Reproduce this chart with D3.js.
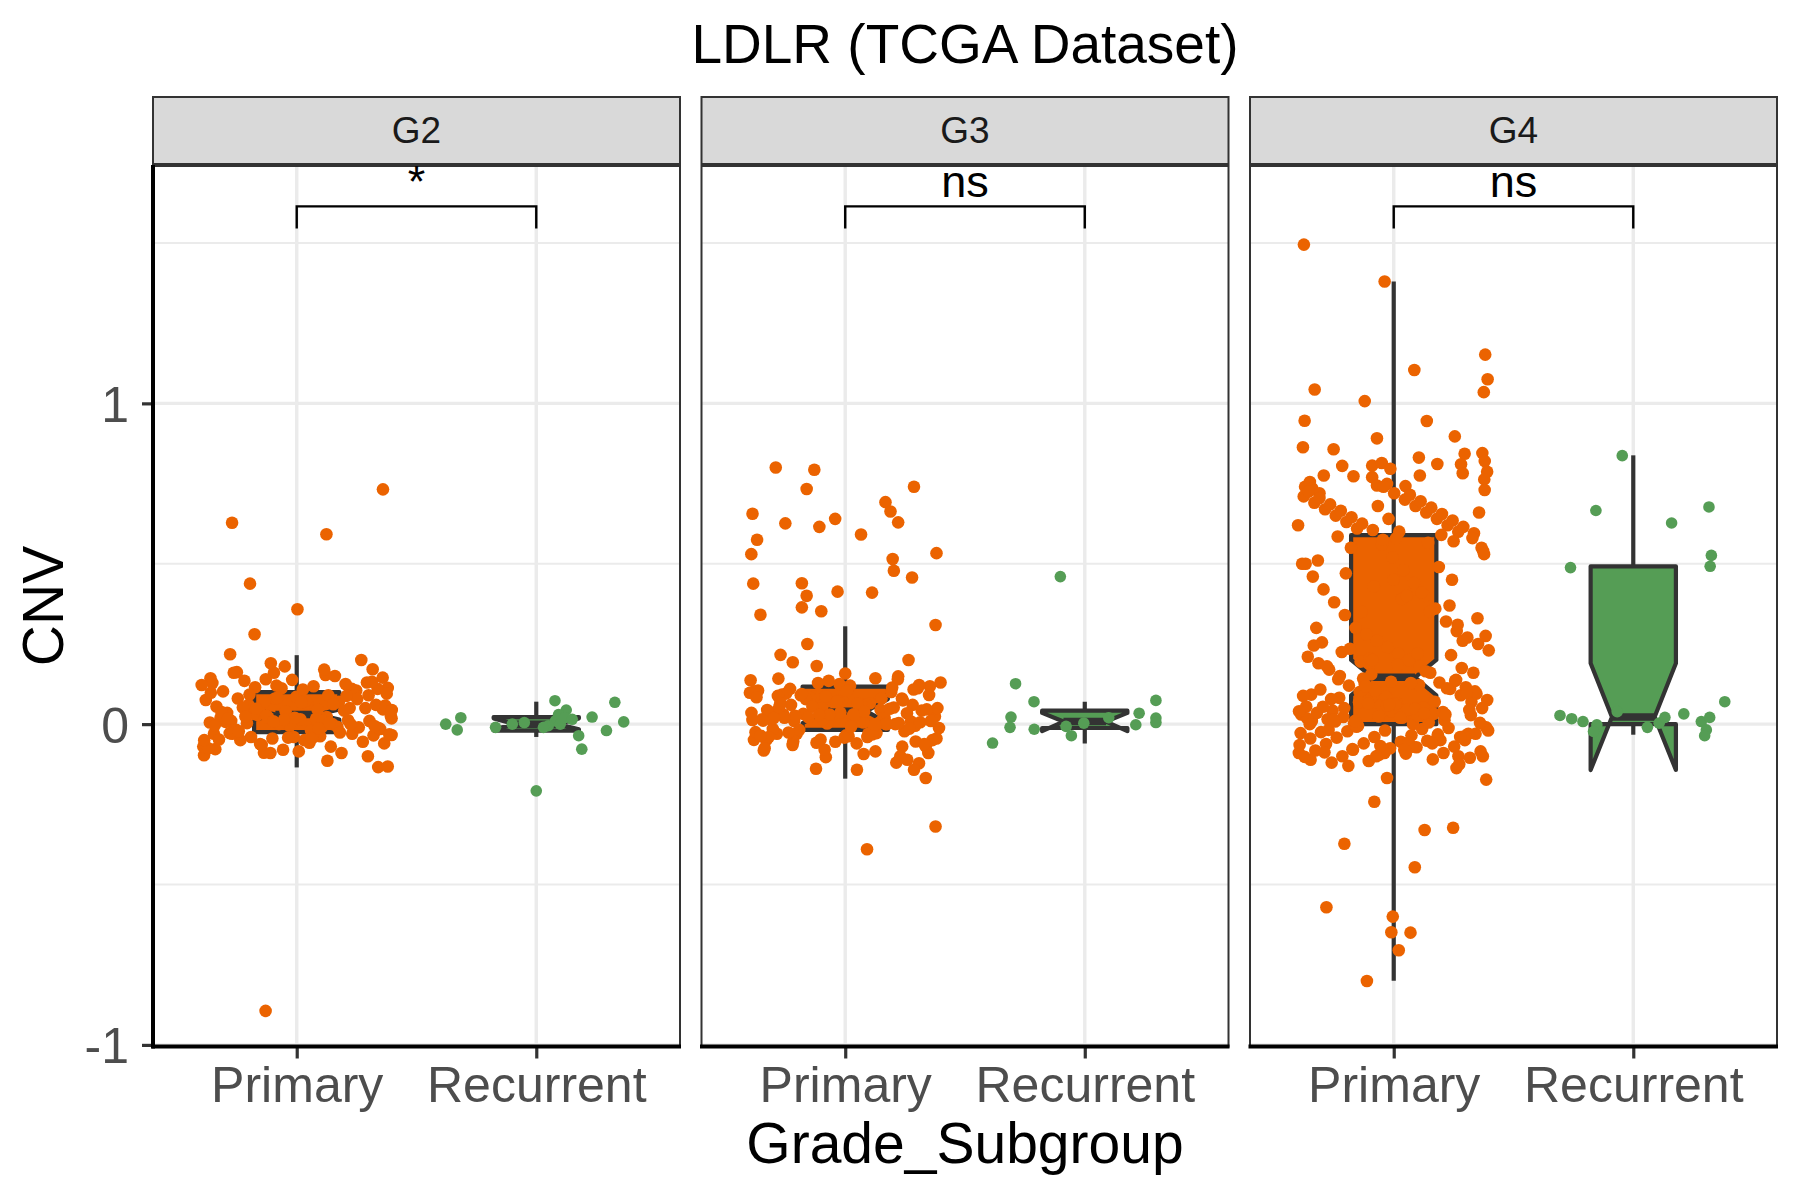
<!DOCTYPE html>
<html><head><meta charset="utf-8">
<script src="https://cdn.jsdelivr.net/npm/d3@7"></script>
<style>
body{margin:0;background:#fff}
svg{display:block}
text{font-family:"Liberation Sans",Arial,Helvetica,sans-serif}
</style>
</head><body>
<svg id="chart" width="1800" height="1200"></svg>
<script>
// ---------------- DATA ----------------
const chartTitle = "LDLR (TCGA Dataset)";
const xTitle = "Grade_Subgroup";
const yTitle = "CNV";
const grades = ["G2", "G3", "G4"];
const categories = ["Primary", "Recurrent"];
const yTicks = [-1, 0, 1];
const yTickLabels = ["-1", "0", "1"];
const sigLabels = ["*", "ns", "ns"];
const bracketTop = [1.614, 1.614, 1.614];
const bracketTip = [1.545, 1.545, 1.545];
const sigLabelY = [1.643, 1.643, 1.643];

// box statistics, order: G2 Primary, G2 Recurrent, G3 Primary, G3 Recurrent, G4 Primary, G4 Recurrent
const boxLower  = [-0.135, -0.04, -0.17, -0.06, -0.80, -0.033];
const boxQ1     = [-0.025, -0.02, -0.018, -0.012, 0.0, 0.0];
const boxMedian = [0.03, 0.0, 0.04, 0.008, 0.146, 0.022];
const boxQ3     = [0.10, 0.022, 0.117, 0.042, 0.589, 0.492];
const boxUpper  = [0.215, 0.07, 0.305, 0.07, 1.38, 0.838];
const notchLow  = [0.014, -0.016, 0.003, -0.022, 0.09, -0.143];
const notchHigh = [0.046, 0.018, 0.078, 0.035, 0.20, 0.19];

// distinct points: [jitter offset (category units), CNV]
const g2PrimaryOut = [[0.36,0.732],[-0.27,0.628],[0.124,0.592],[-0.195,0.438],[0.003,0.358],[-0.176,0.28],[-0.278,0.218],[0.317,0.171],[-0.05,0.18],[-0.25,0.162],[-0.36,0.143],[0.12,0.153],[-0.095,0.16],[-0.387,-0.097],[0.128,-0.114],[0.34,-0.134],[0.38,-0.132],[-0.34,-0.078],[-0.137,-0.089],[-0.11,-0.09],[0.396,-0.034],[0.396,0.018],[0.36,0.046],[0.38,0.113],[0.3,0.09],[0.23,0.11],[-0.13,-0.894]];
// dense cluster values (jittered evenly)
const g2PrimaryCore = [-0.03,0.0,0.04,0.11,-0.05,0.01,0.05,0.12,-0.07,-0.01,0.06,0.13,-0.04,0.02,0.07,0.14,-0.06,-0.02,0.08,0.105,-0.08,0.005,0.09,0.115,-0.035,0.015,0.035,0.125,-0.045,0.025,0.045,0.135,-0.055,-0.005,0.055,0.15,-0.065,-0.015,0.065,0.16,-0.03,0.0,0.075,0.17,-0.04,0.01,0.085,0.102,-0.09,0.02,0.095,0.118,-0.05,-0.01,0.04,0.128,-0.07,0.028,0.06,0.108,-0.028,0.012,0.08,0.122,-0.038,0.003,0.05,0.138,-0.048,-0.008,0.07,0.145,-0.058,-0.018,0.09,0.112,-0.075,0.022,0.032,0.132,-0.085,0.007,0.042,0.19,-0.032,0.017,0.052,0.2,-0.042,-0.003,0.062,-0.062,-0.012,0.072,-0.03,0.0,0.082,-0.05,0.01,0.092,-0.1,0.02,0.038,-0.026,0.026,0.058,-0.044,-0.022,0.078,0.014,0.098,0.004,0.048,-0.006,0.068,0.018,0.088,0.009,0.044,-0.013,0.024];
const g2RecurrentOut = [[-0.378,0.0],[-0.315,0.02],[-0.33,-0.018],[-0.17,-0.01],[0.078,0.073],[0.125,0.044],[0.093,0.03],[0.08,0.01],[0.05,-0.005],[0.03,-0.01],[0.1,0.0],[0.12,0.02],[0.177,-0.036],[0.19,-0.078],[0.233,0.022],[0.293,-0.02],[0.328,0.068],[0.365,0.007],[0.0,-0.208],[-0.1,0.0],[-0.05,0.005],[0.15,0.015]];
const g2RecurrentCore = [];

const g3PrimaryOut = [[-0.29,0.80],[-0.129,0.793],[-0.161,0.733],[-0.387,0.656],[-0.25,0.626],[-0.108,0.615],[-0.042,0.64],[0.287,0.74],[0.168,0.692],[0.189,0.663],[0.221,0.629],[-0.368,0.575],[-0.392,0.53],[0.066,0.591],[0.381,0.533],[0.198,0.515],[0.203,0.478],[0.279,0.457],[-0.384,0.438],[-0.181,0.439],[-0.161,0.40],[-0.032,0.413],[0.112,0.41],[-0.181,0.364],[-0.1,0.352],[-0.354,0.341],[0.377,0.309],[-0.27,0.216],[-0.219,0.193],[-0.119,0.181],[-0.395,0.137],[-0.279,0.142],[0.0,0.158],[0.126,0.143],[0.221,0.149],[0.35,0.091],[-0.34,-0.082],[-0.381,-0.049],[-0.081,-0.103],[-0.122,-0.139],[0.049,-0.142],[0.077,-0.093],[0.126,-0.085],[0.238,-0.07],[0.259,-0.111],[0.308,-0.122],[0.287,-0.142],[0.336,-0.168],[0.377,-0.319],[0.091,-0.39],[0.294,-0.054],[-0.217,-0.054]];
const g3PrimaryCore = [0.12,-0.03,0.0,0.05,0.13,-0.04,0.01,0.06,0.125,-0.05,0.02,0.07,0.118,-0.06,0.03,0.08,0.135,-0.025,-0.01,0.09,0.122,-0.035,-0.015,0.1,0.128,-0.045,0.005,0.11,0.2,-0.055,0.015,0.045,0.25,-0.07,0.025,0.055,0.14,-0.08,0.035,0.065,-0.03,-0.005,0.075,-0.04,0.0,0.085,-0.05,0.012,0.095,-0.022,0.022,0.105,-0.028,0.032,0.042,-0.038,0.038,0.052,-0.048,-0.012,0.062,-0.065,0.008,0.072,-0.075,0.018,0.082,-0.09,0.028,0.092,-0.1,0.002,0.102,-0.032,-0.018,0.112,-0.042,0.014,0.048,-0.058,0.024,0.058,-0.026,0.034,0.068,-0.036,0.004,0.078,-0.062,-0.008,0.088,-0.12,0.016,0.098,-0.03,0.026,0.108,0.036,0.044,0.0,0.054,0.01,0.064,0.02,0.074,0.03,0.084,-0.002,0.094,0.006,0.104,0.019,0.114,0.029,0.05,0.039,0.06,-0.014,0.07,0.011,0.08,0.021,0.046,0.031,0.066,0.003,0.086,0.013];
const g3RecurrentOut = [[-0.102,0.46],[-0.289,0.126],[-0.212,0.07],[-0.308,0.022],[-0.312,-0.01],[-0.211,-0.016],[-0.385,-0.059],[-0.078,-0.007],[-0.056,-0.036],[-0.004,0.003],[0.227,0.034],[0.213,-0.002],[0.297,0.074],[0.297,0.019],[0.297,0.005],[0.1,0.02]];
const g3RecurrentCore = [];

const g4PrimaryOut = [[-0.375,1.495],[-0.038,1.38],[0.382,1.152],[0.392,1.075],[0.376,1.035],[0.086,1.104],[-0.33,1.043],[-0.121,1.007],[-0.372,0.946],[0.138,0.945],[-0.379,0.863],[-0.251,0.857],[-0.07,0.891],[0.255,0.897],[0.105,0.831],[0.182,0.811],[0.296,0.843],[0.281,0.81],[0.288,0.782],[0.37,0.845],[0.38,0.82],[0.39,0.787],[0.378,0.763],[-0.215,0.805],[-0.292,0.775],[-0.168,0.773],[-0.09,0.806],[-0.05,0.814],[-0.014,0.796],[-0.09,0.77],[-0.07,0.744],[-0.028,0.749],[0.109,0.775],[0.049,0.742],[-0.37,0.74],[-0.35,0.755],[-0.34,0.735],[-0.31,0.72],[-0.028,-0.168],[-0.081,-0.242],[0.129,-0.33],[0.248,-0.323],[-0.206,-0.373],[0.088,-0.446],[-0.281,-0.571],[-0.004,-0.6],[-0.01,-0.649],[0.07,-0.65],[0.021,-0.705],[-0.112,-0.801],[0.386,-0.173],[0.372,-0.1],[0.262,-0.137],[0.27,-0.1],[-0.396,-0.09],[-0.347,-0.111]];
const g4PrimaryCore = [-0.01,0.0,0.15,0.6,-0.02,0.01,0.16,0.61,-0.03,0.02,0.17,0.62,-0.04,0.03,0.18,0.63,-0.05,0.04,0.19,0.64,-0.06,0.05,0.2,0.65,-0.07,0.06,0.21,0.66,-0.08,0.07,0.22,0.67,-0.09,0.08,0.23,0.68,-0.1,0.09,0.24,0.69,-0.11,0.1,0.25,0.7,-0.12,0.11,0.26,0.71,-0.015,0.12,0.27,0.72,-0.025,0.13,0.28,0.73,-0.035,0.14,0.29,0.74,-0.045,0.005,0.3,0.595,-0.055,0.015,0.32,0.605,-0.065,0.025,0.34,0.615,-0.075,0.035,0.36,0.625,-0.085,0.045,0.38,0.635,-0.095,0.055,0.4,0.645,-0.105,0.065,0.42,0.655,-0.115,0.075,0.44,0.665,-0.125,0.085,0.46,0.675,-0.005,0.095,0.48,0.685,-0.012,0.105,0.5,0.695,-0.022,0.115,0.52,0.705,-0.032,0.125,0.54,0.715,-0.042,0.135,0.56,0.725,-0.052,0.002,0.58,0.6,-0.062,0.012,0.155,0.62,-0.072,0.022,0.175,0.64,-0.082,0.032,0.195,0.66,-0.092,0.042,0.215,0.68,-0.102,0.052,0.235,-0.03,0.062,0.255,-0.05,0.072,0.275,-0.07,0.082,0.31,-0.09,0.092,0.35,-0.008,0.102,0.39,-0.018,0.112,0.43,-0.028,0.122,0.47,-0.038,0.132,0.51,-0.048,0.142,0.55,-0.058,0.008,0.57,-0.068,0.018,0.165,-0.078,0.028,0.185,-0.088,0.038,0.205,-0.02,0.048,0.225,-0.04,0.058,0.245,-0.06,0.068,0.33,-0.08,0.078,0.37,-0.1,0.088,0.41,-0.13,0.098,0.45,0.108,0.49,0.118,0.53,0.128,0.585,0.138,0.575,0.0,0.565,0.01,0.16,0.02,0.18,0.03,0.2,0.04,0.22,0.05,0.26,0.06,0.3,0.07,0.35,0.004,0.4,0.014,0.45,0.024,0.5,0.034,0.55,0.044,0.58,0.054,0.59,0.064];
const g4RecurrentOut = [[-0.306,0.027],[-0.257,0.017],[-0.21,0.008],[-0.152,-0.002],[-0.166,-0.023],[-0.067,0.039],[0.059,-0.01],[0.108,0.003],[0.132,0.021],[0.211,0.032],[0.284,0.008],[0.319,0.021],[0.305,-0.018],[0.298,-0.036],[0.382,0.07],[-0.046,0.837],[-0.156,0.666],[0.16,0.627],[0.316,0.677],[-0.262,0.488],[0.326,0.526],[0.321,0.492]];
const g4RecurrentCore = [];

// ---------------- LAYOUT / STYLE ----------------
const colors = {Primary: "#EB6300", Recurrent: "#559D55"};
const pointR = {Primary: 6.3, Recurrent: 5.8};
const panelLeft0 = 153, panelW = 527, panelGap = 21.5;
const panelTop = 166, panelBottom = 1046.5;
const stripTop = 97, stripBottom = 164;
const boxWidth = 0.356;
const jitterWidth = 0.8;
const boxStroke = 4.2, medianStroke = 7.5;

const svg = d3.select("#chart");
svg.append("rect").attr("width", 1800).attr("height", 1200).attr("fill", "#fff");

const y = d3.scaleLinear().domain([-1.005, 1.74]).range([panelBottom, panelTop]);

const groupData = [
  {grade: "G2", cat: "Primary", out: g2PrimaryOut, core: g2PrimaryCore},
  {grade: "G2", cat: "Recurrent", out: g2RecurrentOut, core: g2RecurrentCore},
  {grade: "G3", cat: "Primary", out: g3PrimaryOut, core: g3PrimaryCore},
  {grade: "G3", cat: "Recurrent", out: g3RecurrentOut, core: g3RecurrentCore},
  {grade: "G4", cat: "Primary", out: g4PrimaryOut, core: g4PrimaryCore},
  {grade: "G4", cat: "Recurrent", out: g4RecurrentOut, core: g4RecurrentCore}
];

function evenJitter(i, seed) {
  const f = ((i + seed) * 0.6180339887498949) % 1;
  return (f - 0.5) * jitterWidth;
}

grades.forEach((g, p) => {
  const left = panelLeft0 + p * (panelW + panelGap);
  const right = left + panelW;
  const x = d3.scalePoint().domain(categories).range([left, right]).padding(0.6);
  const step = x.step();

  const clipId = "clip" + p;
  svg.append("clipPath").attr("id", clipId).append("rect")
    .attr("x", left).attr("y", panelTop).attr("width", panelW).attr("height", panelBottom - panelTop);

  const pg = svg.append("g");
  const minor = [-0.5, 0.5, 1.5];
  pg.selectAll(".minor").data(minor).join("line")
    .attr("x1", left).attr("x2", right).attr("y1", d => y(d)).attr("y2", d => y(d))
    .attr("stroke", "#EBEBEB").attr("stroke-width", 1.8);
  pg.selectAll(".major").data(yTicks).join("line")
    .attr("x1", left).attr("x2", right).attr("y1", d => y(d)).attr("y2", d => y(d))
    .attr("stroke", "#EBEBEB").attr("stroke-width", 3.4);
  pg.selectAll(".vgrid").data(categories).join("line")
    .attr("x1", d => x(d)).attr("x2", d => x(d)).attr("y1", panelTop).attr("y2", panelBottom)
    .attr("stroke", "#EBEBEB").attr("stroke-width", 3.4);

  const dg = svg.append("g").attr("clip-path", `url(#${clipId})`);

  categories.forEach((c, ci) => {
    const gi = p * 2 + ci;
    const gd = groupData[gi];
    const cx = x(c);
    const hw = boxWidth / 2 * step;
    const ind = hw * 0.5;
    const x0 = cx - hw, x1 = cx + hw;
    dg.append("line").attr("x1", cx).attr("x2", cx)
      .attr("y1", y(boxQ3[gi])).attr("y2", y(boxUpper[gi]))
      .attr("stroke", "#333333").attr("stroke-width", boxStroke);
    dg.append("line").attr("x1", cx).attr("x2", cx)
      .attr("y1", y(boxQ1[gi])).attr("y2", y(boxLower[gi]))
      .attr("stroke", "#333333").attr("stroke-width", boxStroke);
    const pts = [
      [x0, y(boxQ3[gi])], [x0, y(notchHigh[gi])], [x0 + ind, y(boxMedian[gi])], [x0, y(notchLow[gi])], [x0, y(boxQ1[gi])],
      [x1, y(boxQ1[gi])], [x1, y(notchLow[gi])], [x1 - ind, y(boxMedian[gi])], [x1, y(notchHigh[gi])], [x1, y(boxQ3[gi])]
    ];
    dg.append("path").attr("d", d3.line()(pts) + "Z")
      .attr("fill", colors[c]).attr("stroke", "#333333").attr("stroke-width", boxStroke)
      .attr("stroke-linejoin", "round");
    dg.append("line").attr("x1", x0 + ind).attr("x2", x1 - ind)
      .attr("y1", y(boxMedian[gi])).attr("y2", y(boxMedian[gi]))
      .attr("stroke", "#333333").attr("stroke-width", medianStroke);

    const pts2 = gd.out.map(d => ({dx: d[0], v: d[1]}))
      .concat(gd.core.map((v, i) => ({dx: evenJitter(i, gi * 0.37 + 0.11), v: v})));
    dg.selectAll(null).data(pts2).join("circle")
      .attr("cx", d => cx + d.dx * step)
      .attr("cy", d => y(d.v))
      .attr("r", pointR[c])
      .attr("fill", colors[c]);
  });

  svg.append("rect").attr("x", left).attr("y", panelTop).attr("width", panelW).attr("height", panelBottom - panelTop)
    .attr("fill", "none").attr("stroke", "#333333").attr("stroke-width", 2);

  const bg = svg.append("g");
  bg.append("path")
    .attr("d", `M${x("Primary")},${y(bracketTip[p])}V${y(bracketTop[p])}H${x("Recurrent")}V${y(bracketTip[p])}`)
    .attr("fill", "none").attr("stroke", "#000").attr("stroke-width", 2.4);
  bg.append("text").attr("x", (x("Primary") + x("Recurrent")) / 2).attr("y", y(sigLabelY[p]))
    .attr("text-anchor", "middle").attr("font-size", 45).attr("fill", "#000").text(sigLabels[p]);

  svg.append("rect").attr("x", left).attr("y", stripTop).attr("width", panelW).attr("height", stripBottom - stripTop)
    .attr("fill", "#D9D9D9").attr("stroke", "#333333").attr("stroke-width", 2);
  svg.append("text").attr("x", (left + right) / 2).attr("y", (stripTop + stripBottom) / 2)
    .attr("text-anchor", "middle").attr("dominant-baseline", "central")
    .attr("font-size", 37).attr("fill", "#1A1A1A").text(g);

  const ax = svg.append("g").attr("transform", `translate(0,${panelBottom})`)
    .call(d3.axisBottom(x).tickSize(12).tickSizeOuter(0));
  ax.select(".domain").remove();
  ax.selectAll(".tick line").attr("stroke", "#333333").attr("stroke-width", 3.2);
  ax.selectAll(".tick text").attr("y", 1102 - panelBottom).attr("dy", null)
    .attr("font-size", 50).attr("fill", "#4D4D4D")
    .style("font-family", '"Liberation Sans",Arial,sans-serif');
  svg.append("line").attr("x1", left - 1.5).attr("x2", right + 1).attr("y1", panelBottom).attr("y2", panelBottom)
    .attr("stroke", "#000").attr("stroke-width", 4);

  if (p === 0) {
    const ay = svg.append("g").attr("transform", `translate(${left},0)`)
      .call(d3.axisLeft(y).tickValues(yTicks).tickSize(11).tickSizeOuter(0)
        .tickFormat((d, i) => yTickLabels[i]));
    ay.select(".domain").remove();
    ay.selectAll(".tick line").attr("stroke", "#333333").attr("stroke-width", 3.2);
    ay.selectAll(".tick text").attr("x", 129 - left).attr("dy", "0.36em")
      .attr("font-size", 50).attr("fill", "#4D4D4D")
      .style("font-family", '"Liberation Sans",Arial,sans-serif');
    svg.append("line").attr("x1", left).attr("x2", left).attr("y1", panelTop - 1).attr("y2", panelBottom + 2)
      .attr("stroke", "#000").attr("stroke-width", 4);
  }
});

svg.append("text").attr("x", 965).attr("y", 63).attr("text-anchor", "middle")
  .attr("font-size", 55).attr("fill", "#000").text(chartTitle);
svg.append("text").attr("x", 965).attr("y", 1163).attr("text-anchor", "middle")
  .attr("font-size", 57).attr("fill", "#000").text(xTitle);
svg.append("text").attr("transform", "translate(63,606) rotate(-90)").attr("text-anchor", "middle")
  .attr("font-size", 57).attr("fill", "#000").text(yTitle);
</script>
</body></html>
